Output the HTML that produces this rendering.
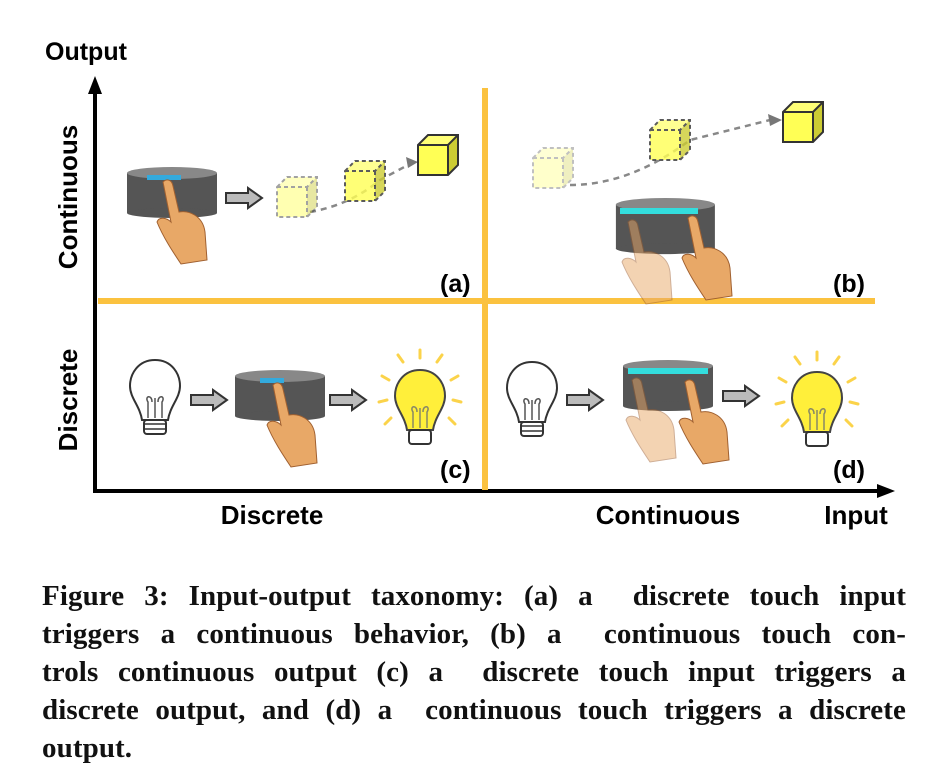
<!DOCTYPE html>
<html><head><meta charset="utf-8"><style>
body{margin:0;background:#fff;width:940px;height:776px;overflow:hidden}
svg{position:absolute;left:0;top:0}
.cap{position:absolute;left:42px;top:577px;width:864px;font-family:"Liberation Serif",serif;font-weight:bold;font-size:29px;letter-spacing:0.1px;line-height:38px;color:#111}
.cap div{text-align:justify;text-align-last:justify;white-space:nowrap}
.cap div.l{text-align-last:left}
</style></head><body>
<svg width="940" height="776" viewBox="0 0 940 776">
<defs>
<g id="cyl"><rect x="0" y="6" width="90" height="40" fill="#555"/><ellipse cx="45" cy="46" rx="45" ry="5" fill="#555"/><ellipse cx="45" cy="6" rx="45" ry="6" fill="#888"/></g>
<g id="arr"><polygon points="0,-5 22,-5 22,-10 36,0 22,10 22,5 0,5" fill="#bbb" stroke="#333" stroke-width="2"/></g>
<g id="cube"><polygon points="0,10 10,0 40,0 30,10" fill="#ff7"/><polygon points="30,10 40,0 40,30 30,40" fill="#cc3"/><rect x="0" y="10" width="30" height="30" fill="#ff5"/><path d="M0,10 L10,0 L40,0 L40,30 L30,40 L0,40 Z M0,10 L30,10 L40,0 M30,10 L30,40" fill="none" stroke="#333" stroke-width="2"/></g>
<g id="dcube"><polygon points="0,10 10,0 40,0 30,10" fill="#ff7"/><polygon points="30,10 40,0 40,30 30,40" fill="#cc3"/><rect x="0" y="10" width="30" height="30" fill="#ff5"/><path d="M0,10 L10,0 L40,0 L40,30 L30,40 L0,40 Z M0,10 L30,10 L40,0 M30,10 L30,40" fill="none" stroke="#333" stroke-width="2" stroke-dasharray="4,3"/></g>
<g id="hand"><path d="M0,0 C4,-4 9,-2 10,4 L16,30 C26,28 40,34 42,50 L44,78 L18,82 C10,70 0,55 -6,40 C-4,34 4,36 8,40 Z" fill="#e8a867" stroke="#a06030" stroke-width="1"/></g>
<g id="bulb"><path d="M25,0 C8,0 0,14 0,26 C0,38 10,46 12,60 L38,60 C40,46 50,38 50,26 C50,14 42,0 25,0 Z" fill="#fff" stroke="#333" stroke-width="2"/><path d="M18,58 L18,42 C14,36 22,34 22,42 M25,58 L25,38 M32,58 L32,42 C36,36 28,34 28,42" fill="none" stroke="#555" stroke-width="1.5"/><rect x="14" y="60" width="22" height="14" rx="3" fill="#fff" stroke="#333" stroke-width="2"/><path d="M14,64 H36 M14,69 H36" stroke="#333" stroke-width="1.5"/></g>
<g id="lit"><path d="M25,0 C8,0 0,14 0,26 C0,38 10,46 12,60 L38,60 C40,46 50,38 50,26 C50,14 42,0 25,0 Z" fill="#ffef3a" stroke="#444" stroke-width="2"/><path d="M18,58 L18,42 C14,36 22,34 22,42 M25,58 L25,38 M32,58 L32,42 C36,36 28,34 28,42" fill="none" stroke="#886" stroke-width="1.5"/><rect x="14" y="60" width="22" height="14" rx="3" fill="#fff" stroke="#333" stroke-width="2"/><g stroke="#fbd34a" stroke-width="3" stroke-linecap="round"><path d="M25,-12 V-20 M8,-8 L3,-15 M42,-8 L47,-15 M-6,10 L-13,6 M56,10 L63,6 M-8,30 L-16,32 M58,30 L66,32 M-4,48 L-10,54 M54,48 L60,54"/></g></g>
</defs>
<line x1="95" y1="491" x2="95" y2="90" stroke="#000" stroke-width="4"/>
<polygon points="95,76 88,94 102,94" fill="#000"/>
<line x1="93" y1="491" x2="880" y2="491" stroke="#000" stroke-width="4"/>
<polygon points="895,491 877,484 877,498" fill="#000"/>
<rect x="482" y="88" width="6" height="402" fill="#fbc23f"/>
<rect x="98" y="298" width="777" height="6" fill="#fbc23f"/>
<g font-family="Liberation Sans,sans-serif" font-weight="bold" fill="#000">
<text x="45" y="60" font-size="25">Output</text>
<text transform="translate(77,197) rotate(-90)" font-size="26" text-anchor="middle">Continuous</text>
<text transform="translate(77,400) rotate(-90)" font-size="26" text-anchor="middle">Discrete</text>
<text x="272" y="524" font-size="26" text-anchor="middle">Discrete</text>
<text x="668" y="524" font-size="26" text-anchor="middle">Continuous</text>
<text x="856" y="524" font-size="26" text-anchor="middle">Input</text>
<text x="440" y="292" font-size="25">(a)</text>
<text x="833" y="292" font-size="25">(b)</text>
<text x="440" y="478" font-size="25">(c)</text>
<text x="833" y="478" font-size="25">(d)</text>
</g>
<use href="#cyl" x="127" y="167"/>
<rect x="147" y="175" width="34" height="5" fill="#3ad"/>
<use href="#hand" x="163" y="182"/>
<use href="#arr" x="226" y="198"/>
<path d="M310,212 Q350,205 380,180 L408,165" fill="none" stroke="#888" stroke-width="2.5" stroke-dasharray="6,5"/>
<polygon points="418,162 406,157 408,168" fill="#777"/>
<g opacity="0.45"><use href="#dcube" x="277" y="177"/></g>
<g opacity="0.8"><use href="#dcube" x="345" y="161"/></g>
<use href="#cube" x="418" y="135"/>
<path d="M570,185 Q630,185 690,140 L770,120" fill="none" stroke="#888" stroke-width="2.5" stroke-dasharray="6,5"/>
<polygon points="782,120 768,114 770,126" fill="#777"/>
<g opacity="0.3"><use href="#dcube" x="533" y="148"/></g>
<g opacity="0.8"><use href="#dcube" x="650" y="120"/></g>
<use href="#cube" x="783" y="102"/>
<use href="#cyl" x="617" y="198" transform="translate(-10,0) scale(1.1,1.1) translate(-48,-18)"/>
<rect x="620" y="208" width="78" height="6" fill="#3dd"/>
<g opacity="0.5"><use href="#hand" x="628" y="222"/></g>
<use href="#hand" x="688" y="218"/>
<use href="#bulb" x="130" y="360"/>
<use href="#arr" x="191" y="400"/>
<use href="#cyl" x="235" y="370"/>
<rect x="260" y="378" width="24" height="5" fill="#3ad"/>
<use href="#hand" x="273" y="385"/>
<use href="#arr" x="330" y="400"/>
<use href="#lit" x="395" y="370"/>
<use href="#bulb" x="507" y="362"/>
<use href="#arr" x="567" y="400"/>
<use href="#cyl" x="623" y="360"/>
<rect x="628" y="368" width="80" height="6" fill="#3dd"/>
<g opacity="0.5"><use href="#hand" x="632" y="380"/></g>
<use href="#hand" x="685" y="382"/>
<use href="#arr" x="723" y="396"/>
<use href="#lit" x="792" y="372"/>
</svg>
<div class="cap">
<div>Figure 3: Input-output taxonomy: (a) a&nbsp; discrete touch input</div>
<div>triggers a continuous behavior, (b) a&nbsp; continuous touch con-</div>
<div>trols continuous output (c) a&nbsp; discrete touch input triggers a</div>
<div>discrete output, and (d) a&nbsp; continuous touch triggers a discrete</div>
<div class="l">output.</div>
</div>
</body></html>
